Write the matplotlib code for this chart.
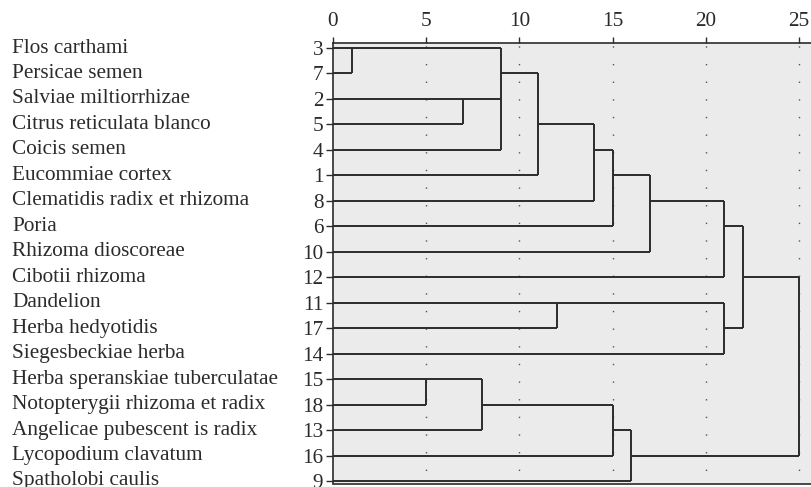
"""
SPSS-style dendrogram (rescaled distance cluster combine), drawn with matplotlib.
"""

import matplotlib.pyplot as plt

# leaves, top to bottom
NAMES = [
    "Flos carthami", "Persicae semen", "Salviae miltiorrhizae",
    "Citrus reticulata blanco", "Coicis semen", "Eucommiae cortex",
    "Clematidis radix et rhizoma", "Poria", "Rhizoma dioscoreae",
    "Cibotii rhizoma", "Dandelion", "Herba hedyotidis", "Siegesbeckiae herba",
    "Herba speranskiae tuberculatae", "Notopterygii rhizoma et radix",
    "Angelicae pubescent is radix", "Lycopodium clavatum", "Spatholobi caulis",
]
IDS = [3, 7, 2, 5, 4, 1, 8, 6, 10, 12, 11, 17, 14, 15, 18, 13, 16, 9]

# merges: rescaled distance, rows spanned by the joining line, row of the
# line that carries the new cluster on, and the merge it goes into
MERGE_DIST = [1, 7, 9, 11, 14, 15, 17, 21, 12, 21, 22, 5, 8, 15, 16, 25]
MERGE_SPAN = [(0, 1), (2, 3), (0, 4), (1, 5), (3, 6), (4, 7), (5, 8), (6, 9),
              (10, 11), (10, 12), (7, 11), (13, 14), (13, 15), (14, 16),
              (15, 17), (9, 16)]
MERGE_OUT_ROW = [0, 2, 1, 3, 4, 5, 6, 7, 10, 11, 9, 13, 14, 15, 16, None]
MERGE_PARENT = [2, 2, 3, 4, 5, 6, 7, 10, 9, 10, 15, 12, 13, 14, 15, None]
# first merge each leaf goes into
LEAF_MERGE = [0, 0, 1, 1, 2, 3, 4, 5, 6, 7, 8, 8, 9, 11, 11, 12, 13, 14]

XTICKS = [0, 5, 10, 15, 20, 25]

plt.rcParams["font.family"] = ["Liberation Serif", "DejaVu Serif"]
INK = "#2b2b2b"
FS = 15.3

fig = plt.figure(figsize=(8.11, 4.87), dpi=100)
ax = fig.add_axes([333 / 811, 3.5 / 487, 1 - 333 / 811, (483.5 - 43) / 487])
ax.set_facecolor("#ebebeb")

lw = 1.4
# leaf lines
for row, m in enumerate(LEAF_MERGE):
    ax.plot([0, MERGE_DIST[m]], [row, row], color=INK, lw=lw,
            solid_capstyle="butt")
# joins and carry-on lines
for i, d in enumerate(MERGE_DIST):
    top, bot = MERGE_SPAN[i]
    ax.plot([d, d], [top, bot], color=INK, lw=lw, solid_capstyle="butt")
    if MERGE_PARENT[i] is not None:
        r = MERGE_OUT_ROW[i]
        ax.plot([d, MERGE_DIST[MERGE_PARENT[i]]], [r, r], color=INK, lw=lw,
                solid_capstyle="butt")

# sparse dotted grid
for x in XTICKS[1:]:
    ax.axvline(x, color="#555555", lw=1.0, linestyle=(3, (1, 11.7)), zorder=0)

ax.set_xlim(0, (811 - 333) / 18.64)
ax.set_ylim(17 + 2.5 / 25.47, -5 / 25.47)

ax.xaxis.tick_top()
ax.set_xticks(XTICKS)
ax.set_xticklabels([str(t) for t in XTICKS])
ax.set_yticks(range(len(IDS)))
ax.set_yticklabels([str(i) for i in IDS])
ax.tick_params(axis="x", direction="out", length=4, width=1, colors=INK,
               labelsize=FS, pad=5)
ax.tick_params(axis="y", direction="out", length=5, width=1, colors=INK,
               labelsize=FS, pad=2)

ax.spines["right"].set_visible(False)
for side in ["left", "top", "bottom"]:
    ax.spines[side].set_color(INK)
    ax.spines[side].set_linewidth(1.2)

# names on the far left
for row, name in enumerate(NAMES):
    ax.annotate(name, xy=(12 / 811, row), xycoords=("figure fraction", "data"),
                ha="left", va="center", fontsize=FS, color=INK)

fig.savefig("out.png", dpi=100)
